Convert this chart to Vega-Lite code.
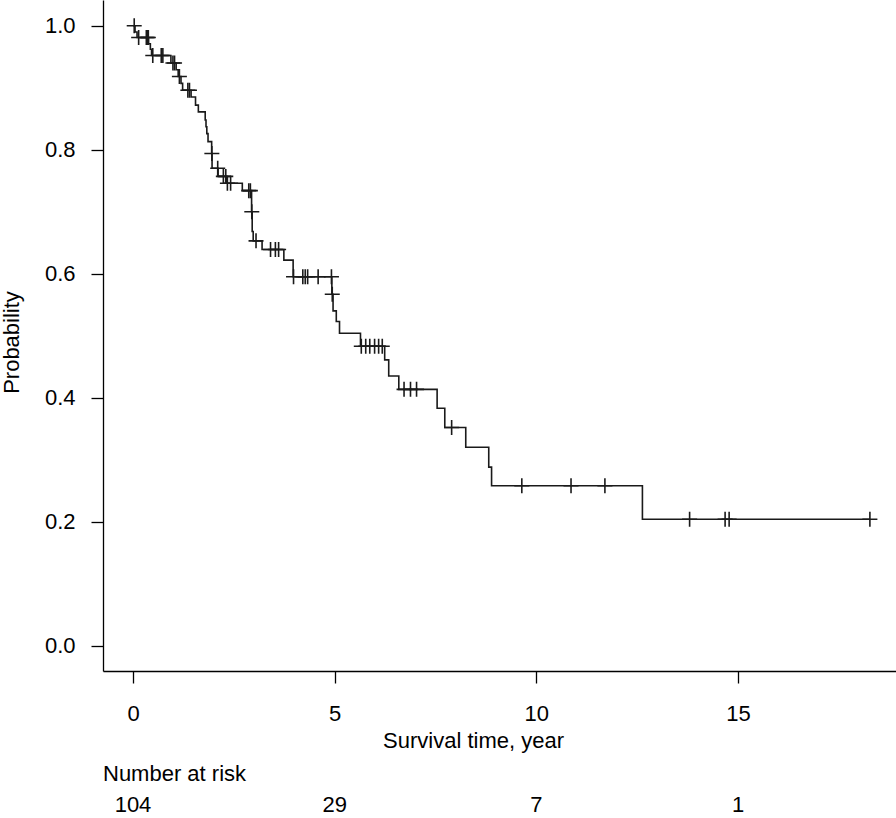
{
  "$schema": "https://vega.github.io/schema/vega-lite/v6.json",
  "padding": 0,
  "autosize": {"type": "pad"},
  "background": "white",
  "config": {
    "view": {"stroke": null},
    "font": "Liberation Sans",
    "axis": {"grid": false, "domainColor": "#000", "tickColor": "#000", "labelColor": "#000", "titleColor": "#000", "domainWidth": 1.3, "tickWidth": 1.3, "tickSize": 12, "labelFont": "Liberation Sans", "titleFont": "Liberation Sans", "labelFontSize": 22, "titleFontSize": 22, "titleFontWeight": "normal"},
    "title": {"font": "Liberation Sans", "fontWeight": "normal", "color": "#000"}
  },
  "datasets": {
    "curve": [
      {"time": 0, "surv": 1.0},
      {"time": 0.05, "surv": 0.990},
      {"time": 0.10, "surv": 0.981},
      {"time": 0.385, "surv": 0.971},
      {"time": 0.43, "surv": 0.962},
      {"time": 0.46, "surv": 0.952},
      {"time": 0.94, "surv": 0.940},
      {"time": 1.07, "surv": 0.929},
      {"time": 1.12, "surv": 0.918},
      {"time": 1.19, "surv": 0.907},
      {"time": 1.23, "surv": 0.896},
      {"time": 1.44, "surv": 0.885},
      {"time": 1.55, "surv": 0.872},
      {"time": 1.62, "surv": 0.861},
      {"time": 1.79, "surv": 0.848},
      {"time": 1.81, "surv": 0.837},
      {"time": 1.83, "surv": 0.826},
      {"time": 1.86, "surv": 0.813},
      {"time": 1.95, "surv": 0.794},
      {"time": 1.96, "surv": 0.770},
      {"time": 2.11, "surv": 0.757},
      {"time": 2.32, "surv": 0.746},
      {"time": 2.71, "surv": 0.734},
      {"time": 2.94, "surv": 0.700},
      {"time": 2.955, "surv": 0.668},
      {"time": 2.98, "surv": 0.653},
      {"time": 3.20, "surv": 0.639},
      {"time": 3.74, "surv": 0.622},
      {"time": 3.97, "surv": 0.595},
      {"time": 4.93, "surv": 0.567},
      {"time": 4.96, "surv": 0.540},
      {"time": 5.04, "surv": 0.523},
      {"time": 5.12, "surv": 0.504},
      {"time": 5.64, "surv": 0.483},
      {"time": 6.24, "surv": 0.461},
      {"time": 6.34, "surv": 0.435},
      {"time": 6.59, "surv": 0.4135},
      {"time": 7.54, "surv": 0.383},
      {"time": 7.73, "surv": 0.352},
      {"time": 8.25, "surv": 0.320},
      {"time": 8.82, "surv": 0.288},
      {"time": 8.89, "surv": 0.258},
      {"time": 12.63, "surv": 0.204},
      {"time": 18.27, "surv": 0.204}
    ],
    "censor": [
      {"time": 0.03, "surv": 1.0},
      {"time": 0.14, "surv": 0.981},
      {"time": 0.33, "surv": 0.981},
      {"time": 0.36, "surv": 0.981},
      {"time": 0.38, "surv": 0.981},
      {"time": 0.49, "surv": 0.952},
      {"time": 0.70, "surv": 0.952},
      {"time": 0.74, "surv": 0.952},
      {"time": 0.99, "surv": 0.940},
      {"time": 1.03, "surv": 0.940},
      {"time": 1.15, "surv": 0.918},
      {"time": 1.36, "surv": 0.896},
      {"time": 1.40, "surv": 0.896},
      {"time": 1.955, "surv": 0.794},
      {"time": 2.10, "surv": 0.770},
      {"time": 2.24, "surv": 0.757},
      {"time": 2.30, "surv": 0.757},
      {"time": 2.34, "surv": 0.746},
      {"time": 2.42, "surv": 0.746},
      {"time": 2.87, "surv": 0.734},
      {"time": 2.91, "surv": 0.734},
      {"time": 2.945, "surv": 0.700},
      {"time": 3.05, "surv": 0.653},
      {"time": 3.41, "surv": 0.639},
      {"time": 3.53, "surv": 0.639},
      {"time": 3.61, "surv": 0.639},
      {"time": 3.98, "surv": 0.595},
      {"time": 4.21, "surv": 0.595},
      {"time": 4.27, "surv": 0.595},
      {"time": 4.33, "surv": 0.595},
      {"time": 4.59, "surv": 0.595},
      {"time": 4.92, "surv": 0.595},
      {"time": 4.94, "surv": 0.567},
      {"time": 5.66, "surv": 0.483},
      {"time": 5.77, "surv": 0.483},
      {"time": 5.87, "surv": 0.483},
      {"time": 5.99, "surv": 0.483},
      {"time": 6.09, "surv": 0.483},
      {"time": 6.18, "surv": 0.483},
      {"time": 6.72, "surv": 0.4135},
      {"time": 6.88, "surv": 0.4135},
      {"time": 7.03, "surv": 0.4135},
      {"time": 7.90, "surv": 0.352},
      {"time": 9.64, "surv": 0.258},
      {"time": 10.86, "surv": 0.258},
      {"time": 11.70, "surv": 0.258},
      {"time": 13.80, "surv": 0.204},
      {"time": 14.68, "surv": 0.204},
      {"time": 14.78, "surv": 0.204},
      {"time": 18.27, "surv": 0.204}
    ],
    "risk": [
      {"time": 0, "n": 104},
      {"time": 5, "n": 29},
      {"time": 10, "n": 7},
      {"time": 15, "n": 1}
    ]
  },
  "spacing": 127,
  "bounds": "flush",
  "resolve": {"scale": {"x": "independent"}},
  "vconcat": [
    {
      "width": 794,
      "height": 671,
      "layer": [
        {
          "data": {"name": "curve"},
          "mark": {"type": "line", "interpolate": "step-after", "color": "#1a1a1a", "strokeWidth": 1.6},
          "encoding": {
            "x": {"field": "time", "type": "quantitative",
                  "scale": {"domain": [-0.744, 18.942], "nice": false, "zero": false},
                  "axis": {"values": [0, 5, 10, 15], "format": "d", "labelPadding": 20, "title": "Survival time, year", "titlePadding": 6, "titleX": 370, "titleAlign": "center", "labelFlush": false}},
            "y": {"field": "surv", "type": "quantitative",
                  "scale": {"domain": [-0.0408, 1.0415], "nice": false, "zero": false},
                  "axis": {"values": [0, 0.2, 0.4, 0.6, 0.8, 1.0], "format": ".1f", "labelPadding": 16, "title": "Probability", "titlePadding": 21, "titleY": 342, "minExtent": 59, "maxExtent": 59, "labelFlush": false}}
          }
        },
        {
          "data": {"name": "censor"},
          "mark": {"type": "point", "shape": "M-1,0L1,0M0,-1L0,1", "size": 225, "filled": false, "color": "#1a1a1a", "strokeWidth": 1.6, "opacity": 1},
          "encoding": {
            "x": {"field": "time", "type": "quantitative"},
            "y": {"field": "surv", "type": "quantitative"}
          }
        }
      ]
    },
    {
      "width": 794,
      "height": 14,
      "title": {"text": "Number at risk", "anchor": "start", "frame": "group", "fontSize": 22, "offset": 8},
      "data": {"name": "risk"},
      "mark": {"type": "text", "fontSize": 22, "color": "#000", "align": "center", "baseline": "middle"},
      "encoding": {
        "x": {"field": "time", "type": "quantitative",
              "scale": {"domain": [-0.744, 18.942], "nice": false, "zero": false},
              "axis": null},
        "text": {"field": "n", "type": "quantitative"}
      }
    }
  ]
}
